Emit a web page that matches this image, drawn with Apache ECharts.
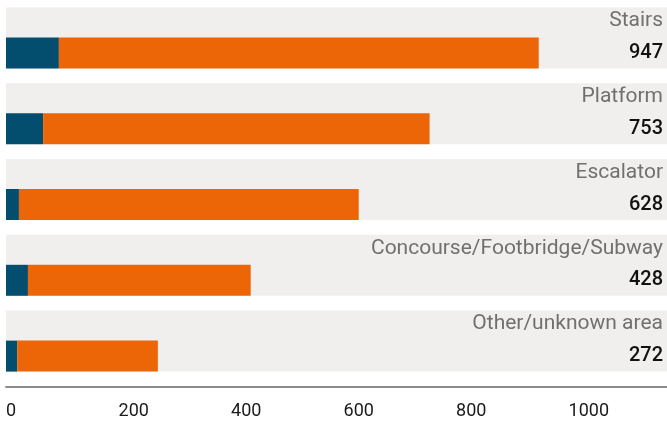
<!DOCTYPE html>
<html>
<head>
<meta charset="utf-8">
<script src="https://cdn.jsdelivr.net/npm/echarts@6/dist/echarts.min.js"></script>
<style>
  html, body { margin: 0; padding: 0; background: #fff; }
  #chart { width: 667px; height: 424px; }
</style>
</head>
<body>
<div id="chart"></div>
<script>
var categories = ['Stairs', 'Platform', 'Escalator', 'Concourse/Footbridge/Subway', 'Other/unknown area'];
var blueValues = [94, 66, 23, 39, 20];
var orangeValues = [853, 687, 604, 396, 250];
var totals = [947, 753, 628, 428, 272];
var tickValues = [0, 200, 400, 600, 800, 1000];

var AXIS_MAX = 1175;
var bandValues = categories.map(function () { return AXIS_MAX; });

var myChart = echarts.init(document.getElementById('chart'));
var font = 'Roboto, "Noto Sans", sans-serif';

var option = {
    animation: false,
    grid: [
        {left: 6, right: 0, top: 0, height: 379},   // grey bands
        {left: 6, right: 0, top: 15, height: 379}   // bars, shifted to the lower half
    ],
    xAxis: [
        {
            gridIndex: 0,
            type: 'value',
            min: 0,
            max: AXIS_MAX,
            interval: 200,
            offset: 8,
            axisLine: {show: true, lineStyle: {color: '#8c8c8c', width: 2}},
            axisTick: {show: false},
            splitLine: {show: false},
            axisLabel: {
                margin: 15,
                align: 'left',
                color: '#1a1a1a',
                fontSize: 18,
                fontFamily: font,
                showMaxLabel: false,
                formatter: function (v) {
                    return tickValues.indexOf(v) >= 0 ? String(v) : '';
                }
            }
        },
        {gridIndex: 1, type: 'value', min: 0, max: AXIS_MAX, show: false}
    ],
    yAxis: [
        {gridIndex: 0, type: 'category', data: categories, inverse: true, show: false},
        {
            gridIndex: 1,
            type: 'category',
            data: categories,
            inverse: true,
            position: 'right',
            axisLine: {show: false},
            axisTick: {show: false},
            axisLabel: {
                inside: true,
                margin: 4,
                color: '#111',
                fontSize: 20,
                fontWeight: 500,
                fontFamily: font,
                formatter: function (v, i) { return totals[i]; }
            },
            z: 10
        }
    ],
    series: [
        {
            type: 'bar',
            xAxisIndex: 0,
            yAxisIndex: 0,
            barWidth: 61,
            data: bandValues,
            itemStyle: {color: '#f0efed'},
            silent: true,
            label: {
                show: true,
                position: 'insideTopRight',
                distance: 4,
                offset: [0, -1],
                color: '#707070',
                fontSize: 21,
                fontFamily: font,
                formatter: '{b}'
            }
        },
        {
            type: 'bar',
            xAxisIndex: 1,
            yAxisIndex: 1,
            stack: 'total',
            barWidth: 31,
            data: blueValues,
            itemStyle: {color: '#034e6f'}
        },
        {
            type: 'bar',
            xAxisIndex: 1,
            yAxisIndex: 1,
            stack: 'total',
            barWidth: 31,
            data: orangeValues,
            itemStyle: {color: '#ec6608'}
        }
    ]
};
myChart.setOption(option, true);
window.addEventListener('resize', function () {
    myChart.resize();
});
</script>
</body>
</html>
